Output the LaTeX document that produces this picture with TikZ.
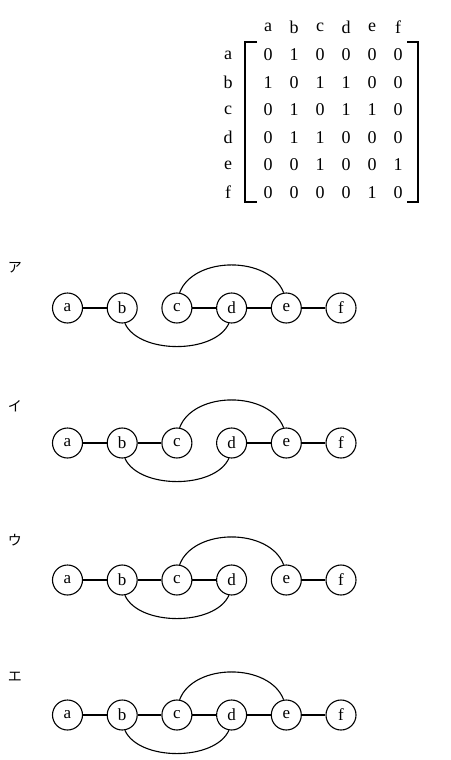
\documentclass[tikz,border=0pt]{standalone}
\usepackage{fontspec}
\setmainfont{Liberation Serif}
\newfontfamily\jpfont{Noto Sans CJK JP}
\begin{document}
\begin{tikzpicture}[x=1pt,y=-1pt,
  vtx/.style={circle,draw,line width=1.1pt,minimum size=30pt,inner sep=0pt,font=\fontsize{17}{17}\selectfont},
  edge/.style={line width=1.1pt},
  ent/.style={inner sep=0pt,font=\fontsize{18}{18}\selectfont},
  lab/.style={inner sep=0pt,font=\jpfont\fontsize{14}{14}\selectfont},
  brk/.style={line width=1.2pt}]
\useasboundingbox (0,0) rectangle (450,760);
% matrix headers
\foreach \n [count=\i from 0] in {a,b,c,d,e,f} {
  \node[ent] (h\n) at ({268+26*\i},27) {\n};
  \node[ent] (r\n) at (228,{55+27.5*\i}) {\n};
}
% entries
\foreach \row [count=\r from 0] in {{0,1,0,0,0,0},{1,0,1,1,0,0},{0,1,0,1,1,0},{0,1,1,0,0,0},{0,0,1,0,0,1},{0,0,0,0,1,0}} {
  \foreach \v [count=\c from 0] in \row {
    \node[ent] (m\r\c) at ({268+26*\c},{55+27.5*\r}) {\v};
  }
}
\coordinate (lt) at (245,42); \coordinate (lb) at (245,202);
\coordinate (rt) at (418,42); \coordinate (rb) at (418,202);
\draw[brk] ([xshift=12pt]lt) -- (lt) -- (lb) -- ([xshift=12pt]lb);
\draw[brk] ([xshift=-11pt]rt) -- (rt) -- (rb) -- ([xshift=-11pt]rb);
% labels
\node[lab] (L1) at (15,268) {ア};
\node[lab] (L2) at (15,406) {イ};
\node[lab] (L3) at (15,540) {ウ};
\node[lab] (L4) at (15,677) {エ};
% graphs
\foreach \g/\y in {1/308,2/443,3/580,4/715} {
  \foreach \n [count=\i from 0] in {a,b,c,d,e,f} {
    \node[vtx] (\g\n) at ({67.5+54.7*\i},\y) {\n};
  }
  \draw[edge] (\g c.80) .. controls +(14,-37) and +(-14,-37) .. (\g e.100);
  \draw[edge] (\g b.-80) .. controls +(14,31) and +(-14,31) .. (\g d.-100);
  \draw[edge] (\g a) -- (\g b);
  \draw[edge] (\g e) -- (\g f);
}
% ア
\draw[edge] (1c) -- (1d);
\draw[edge] (1d) -- (1e);
% イ
\draw[edge] (2b) -- (2c);
\draw[edge] (2d) -- (2e);
% ウ
\draw[edge] (3b) -- (3c);
\draw[edge] (3c) -- (3d);
% エ
\draw[edge] (4b) -- (4c);
\draw[edge] (4c) -- (4d);
\draw[edge] (4d) -- (4e);
\end{tikzpicture}
\end{document}
